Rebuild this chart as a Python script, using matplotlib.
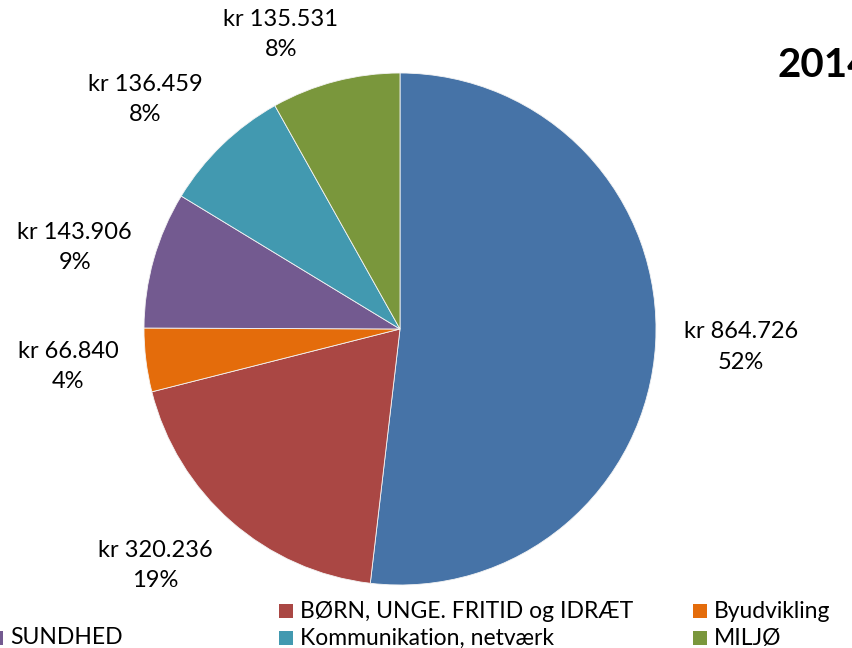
import numpy as np
import matplotlib
matplotlib.use("Agg")
import matplotlib.pyplot as plt
from matplotlib.patches import Rectangle

W, H = 853, 648

values = [864726, 320236, 66840, 143906, 136459, 135531]
colors = ["#4673A7", "#AA4744", "#E46C0B", "#735A90", "#4299B0", "#7A973C"]
legend_names = [None, "BØRN, UNGE. FRITID og IDRÆT", "Byudvikling",
                "SUNDHED", "Kommunikation, netværk", "MILJØ"]
title = "2014"

# label placement relative to each wedge: (radius, angle offset in degrees)
label_pos = [(1.334, 0.3), (1.33, -4.7), (1.305, -0.5), (1.31, 1.7), (1.34, 4.0), (1.24, 7.4)]

plt.rcParams["font.family"] = ["Lato", "DejaVu Sans"]

fig = plt.figure(figsize=(W / 100, H / 100), dpi=100)

cx, cy, r = 400, 329, 256
ax = fig.add_axes([(cx - r) / W, (H - cy - r) / H, 2 * r / W, 2 * r / H])

total = sum(values)


def fmt(pct):
    v = int(round(pct * total / 100.0))
    return "kr " + f"{v:,}".replace(",", ".") + "\n" + f"{pct:.0f}%"


wedges, _, autotexts = ax.pie(values, colors=colors, startangle=90, counterclock=False,
                              autopct=fmt, pctdistance=1.3,
                              wedgeprops=dict(edgecolor="#f4f4f4", linewidth=0.6))
ax.set_xlim(-1, 1)
ax.set_ylim(-1, 1)
ax.set_aspect("equal")

for w, t, (d, off) in zip(wedges, autotexts, label_pos):
    a = np.deg2rad((w.theta1 + w.theta2) / 2 + off)
    t.set_position((d * np.cos(a), d * np.sin(a)))
    t.set_fontsize(17)
    t.set_linespacing(1.55)
    t.set_ha("center")
    t.set_va("center")
    t.set_color("black")

fig.text(778 / W, 1 - 77 / H, title, fontsize=29, fontweight="bold", ha="left", va="baseline")

# legend drawn by hand (the chart is cropped on both sides)
col_x = [10, 300, 714]
row_y = [611, 638]
for i, (name, c) in enumerate(zip(legend_names, colors)):
    if name is None:
        continue
    row, col = divmod(i, 3)
    tx, ty = col_x[col], row_y[row]
    fig.patches.append(Rectangle(((tx - 21) / W, 1 - (ty + 7) / H), 14 / W, 14 / H,
                                 transform=fig.transFigure, facecolor=c, edgecolor="none"))
    fig.text(tx / W, 1 - ty / H, name, fontsize=16.5, ha="left", va="center")

fig.savefig("out.png", dpi=100, facecolor="white")
